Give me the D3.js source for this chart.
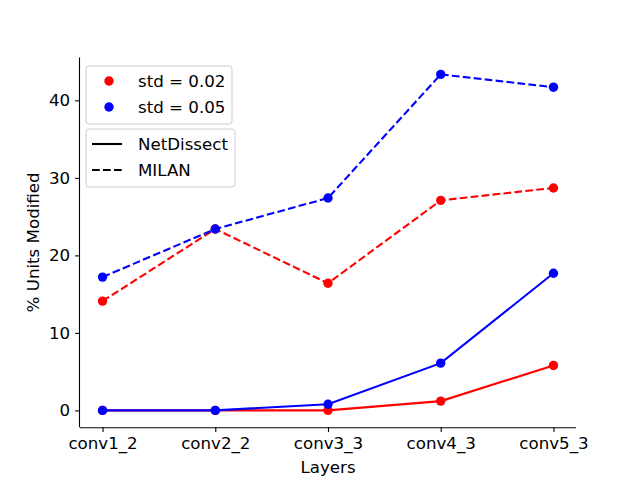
<!DOCTYPE html>
<html>
<head>
<meta charset="utf-8">
<script src="https://cdn.jsdelivr.net/npm/d3@7"></script>
<style>
  html, body { margin: 0; padding: 0; background: #fff; }
  svg { display: block; font-family: "DejaVu Sans", sans-serif; }
</style>
</head>
<body>
<div id="chart"></div>
<script>
// layers on the x axis
const layers = ['conv1_2', 'conv2_2', 'conv3_3', 'conv4_3', 'conv5_3']
const yTicks = [0, 10, 20, 30, 40]

// % units modified
const netdissect002 = [0, 0, 0, 1.2, 5.8]
const milan002 = [14.1, 23.4, 16.4, 27.1, 28.7]
const netdissect005 = [0, 0, 0.8, 6.1, 17.7]
const milan005 = [17.2, 23.4, 27.4, 43.35, 41.7]

const series = [
  { values: netdissect002, color: 'red', dash: null },
  { values: milan002, color: 'red', dash: '7.7,3.3' },
  { values: netdissect005, color: 'blue', dash: null },
  { values: milan005, color: 'blue', dash: '7.7,3.3' }
]

const W = 640, H = 480
const mLeft = 80, mRight = 576, mTop = 57.6, mBottom = 427.2
const fs = '16.67px'

const svg = d3.select('#chart').append('svg')
  .attr('width', W)
  .attr('height', H)

// matplotlib style 5% margins
const xIdx = layers.map((d, i) => i)
const xPad = (xIdx.length - 1) * 0.05
const x = d3.scaleLinear()
  .domain([-xPad, xIdx.length - 1 + xPad])
  .range([mLeft, mRight])

const all = series.flatMap(s => s.values)
const yMin = d3.min(all), yMax = d3.max(all)
const yPad = (yMax - yMin) * 0.05
const y = d3.scaleLinear()
  .domain([yMin - yPad, yMax + yPad])
  .range([mBottom, mTop])

// axes
const xAxis = svg.append('g')
  .attr('transform', `translate(0,${mBottom})`)
  .call(d3.axisBottom(x).tickValues(xIdx).tickFormat(i => layers[i]).tickSize(4.9).tickPadding(4.9))
xAxis.select('.domain').attr('stroke', '#000').attr('stroke-width', 1.1)
  .attr('d', `M${mLeft},0.5H${mRight}`)

const yAxis = svg.append('g')
  .attr('transform', `translate(${mLeft},0)`)
  .call(d3.axisLeft(y).tickValues(yTicks).tickSize(4.9).tickPadding(4.9))
yAxis.select('.domain').attr('stroke', '#000').attr('stroke-width', 1.1)
  .attr('d', `M-0.5,${mTop}V${mBottom}`)

svg.selectAll('.tick line').attr('stroke', '#000').attr('stroke-width', 1.1)
svg.selectAll('.tick text')
  .attr('fill', '#000')
  .style('font-size', fs)
  .style('font-family', '"DejaVu Sans", sans-serif')

svg.append('text')
  .attr('x', (mLeft + mRight) / 2)
  .attr('y', 473)
  .attr('text-anchor', 'middle')
  .style('font-size', fs)
  .text('Layers')

svg.append('text')
  .attr('transform', `translate(39,${(mTop + mBottom) / 2}) rotate(-90)`)
  .attr('text-anchor', 'middle')
  .style('font-size', fs)
  .text('% Units Modified')

// lines + markers
const line = d3.line()
  .x((d, i) => x(i))
  .y(d => y(d))

const plot = svg.append('g')
series.forEach(s => {
  plot.append('path')
    .datum(s.values)
    .attr('d', line)
    .attr('fill', 'none')
    .attr('stroke', s.color)
    .attr('stroke-width', 2.08)
    .attr('stroke-dasharray', s.dash)
  plot.selectAll(null)
    .data(s.values)
    .enter()
    .append('circle')
    .attr('cx', (d, i) => x(i))
    .attr('cy', d => y(d))
    .attr('r', 4.7)
    .attr('fill', s.color)
})

// legends
function legendBox(x0, y0, w, h) {
  svg.append('rect')
    .attr('x', x0).attr('y', y0)
    .attr('width', w).attr('height', h)
    .attr('rx', 3)
    .attr('fill', '#fff')
    .attr('fill-opacity', 0.8)
    .attr('stroke', '#ccc')
    .attr('stroke-width', 1)
}

legendBox(86, 66, 146, 58)
const colorLegend = [['std = 0.02', 'red'], ['std = 0.05', 'blue']]
colorLegend.forEach(([label, c], i) => {
  const cy = 81 + i * 26
  svg.append('circle').attr('cx', 109).attr('cy', cy).attr('r', 4.7).attr('fill', c)
  svg.append('text').attr('x', 138).attr('y', cy + 6).style('font-size', fs).text(label)
})

legendBox(86, 129, 149, 58)
const styleLegend = [['NetDissect', null], ['MILAN', '7.7,3.3']]
styleLegend.forEach(([label, dash], i) => {
  const cy = 144 + i * 26
  svg.append('line')
    .attr('x1', 92).attr('x2', 122)
    .attr('y1', cy).attr('y2', cy)
    .attr('stroke', '#000')
    .attr('stroke-width', 2.08)
    .attr('stroke-dasharray', dash)
  svg.append('text').attr('x', 138).attr('y', cy + 6).style('font-size', fs).text(label)
})
</script>
</body>
</html>
